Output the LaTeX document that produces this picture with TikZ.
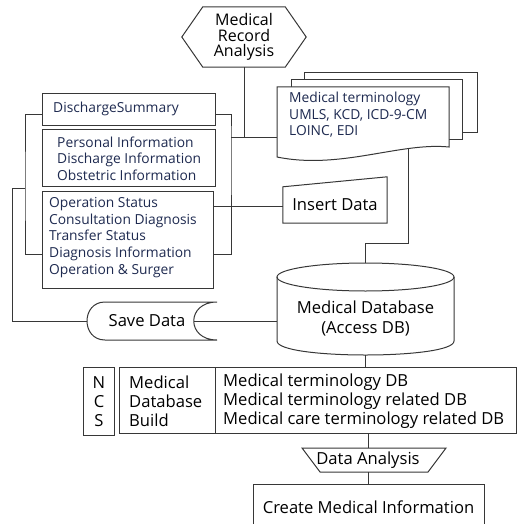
\documentclass[tikz,border=0pt]{standalone}
\usepackage{fontspec}
\setmainfont{Open Sans}
\usetikzlibrary{calc}
\definecolor{navy}{RGB}{30,42,80}
\definecolor{linec}{RGB}{55,55,55}
\tikzset{
  ln/.style={draw=linec, line width=1pt},
  box/.style={ln, fill=white, inner sep=0pt},
  plain/.style={inner sep=0pt},
  fT/.style={font=\fontsize{16}{15.5}\selectfont},
  fS/.style={font=\fontsize{13.8}{16.6}\selectfont, text=navy},
  fL/.style={font=\fontsize{16.6}{19}\selectfont},
  fCy/.style={font=\fontsize{16.6}{20}\selectfont},
}
\begin{document}
\begin{tikzpicture}[x=1pt,y=-1pt]
\useasboundingbox (0,0) rectangle (523,524);
\clip (0,0) rectangle (523,524);

% title hexagon
\node[plain, fT, align=center, minimum width=124, minimum height=60] (mra) at (244,37) {Medical\\Record\\Analysis};
\draw[ln] ($(mra.north west)+(21,0)$) -- ($(mra.north east)+(-21,0)$) -- (mra.east)
  -- ($(mra.south east)+(-21,0)$) -- ($(mra.south west)+(21,0)$) -- (mra.west) -- cycle;

% discharge boxes
\node[box, anchor=north west, minimum width=173, minimum height=32] (ds) at (42,93) {};
\node[plain, fS, anchor=west] (dstxt) at (53,109) {DischargeSummary};
\node[box, anchor=north west, minimum width=173, minimum height=57] (pi) at (42,129) {};
\node[plain, fS, anchor=west, align=left] (pitxt) at (57,158.5) {Personal Information\\Discharge Information\\Obstetric Information};
\node[box, anchor=north west, minimum width=171, minimum height=97] (ops) at (42,191) {};
\node[plain, fS, anchor=west, align=left] (opstxt) at (49,237.5) {Operation Status\\Consultation Diagnosis\\Transfer Status\\Diagnosis Information\\Operation \& Surger};

% document stack
\node[plain, minimum width=172, minimum height=70] (doc) at (363,122) {};
\draw[ln, fill=white] (304,73) rectangle (477,132);
\draw[ln, fill=white] (291,80) rectangle (462,139);
\draw[ln, fill=white] (277,87) -- (449,87) -- (449,147) .. controls (400,142) and (340,170) .. (277,157) -- cycle;
\node[plain, fS, anchor=west, align=left] (doctxt) at (289,115) {Medical terminology\\UMLS, KCD, ICD-9-CM\\LOINC, EDI};
\coordinate (docout) at (408,148);
\coordinate (bend) at (408,243);

% insert data
\node[plain, fL, minimum width=104, minimum height=36] (ins) at (335,205) {Insert Data};
\draw[ln] (ins.south west) -- (ins.north west) -- ($(ins.north east)+(0,-10)$) -- (ins.south east) -- cycle;

% cylinder
\node[plain, minimum width=177, minimum height=92] (cyl) at (365.5,309) {};
\draw[ln] (277,277) -- (277,341) .. controls (277,359.67) and (454,359.67) .. (454,341) -- (454,277);
\draw[ln] (365.5,277) ellipse [x radius=88.5, y radius=14];
\node[plain, fCy, align=center] (cyltxt) at (365.5,319) {Medical Database\\(Access DB)};

% save data
\node[plain, minimum width=130, minimum height=38] (save) at (152,321) {};
\node[plain, fL] (savetxt) at (147,321) {Save Data};
\draw[ln] (217,302) -- (105,302) .. controls (81,302) and (81,340) .. (105,340) -- (217,340)
  .. controls (186,340) and (186,302) .. (217,302);
\coordinate (savein) at (194,321);

% brackets and connectors
\coordinate (lbr) at (25,188);
\coordinate (lfar) at (12,188);
\coordinate (rbr) at (231,137);
\draw[ln] ([yshift=-5pt]ds.west) -| (lbr) |- ([yshift=-14.5pt]ops.west);
\draw[ln] ([yshift=-5pt]ds.east) -| (rbr) |- ([yshift=-14.5pt]ops.east);
\draw[ln] (lbr) -- (lfar) |- (save.west);
\draw[ln] (rbr) -- (rbr -| doc.west);
\draw[ln] (mra.south) -- (mra.south |- rbr);
\draw[ln] ([yshift=-1pt]ins.west) -- ([yshift=-1pt]ins.west -| ops.east);
\draw[ln] (docout) -- (bend) -| (cyl.north);
\draw[ln] (cyl.west |- savein) -- (savein);

% table
\node[box, fL, anchor=north west, minimum width=31, minimum height=68, align=center] (ncs) at (83,367) {N\\C\\S};
\node[box, anchor=north west, minimum width=397, minimum height=66] (tbl) at (119,367) {};
\coordinate (divt) at (215,367);
\coordinate (divb) at (215,433);
\draw[ln] (divt) -- (divb);
\node[plain, fL, anchor=west, align=left] (tl) at (129,401) {Medical\\Database\\Build};
\node[plain, fL, anchor=west, align=left] (tr) at (223,401) {Medical terminology DB\\Medical terminology related DB\\Medical care terminology related DB};
\draw[ln] (cyl.south) -- (cyl.south |- tbl.north);

% data analysis
\node[plain, fL, minimum width=144, minimum height=24] (da) at (368,460) {Data Analysis};
\draw[ln] ($(da.center)+(-66,-12)$) -- ($(da.center)+(78,-12)$) -- ($(da.center)+(60,12)$) -- ($(da.center)+(-48,12)$) -- cycle;

% create
\node[box, fL, minimum width=231, minimum height=46] (cmi) at (368.5,507) {Create Medical Information};
\draw[ln] (da.north) -- (da.north |- tbl.south);
\draw[ln] (da.south) -- (da.south |- cmi.north);
\end{tikzpicture}
\end{document}
